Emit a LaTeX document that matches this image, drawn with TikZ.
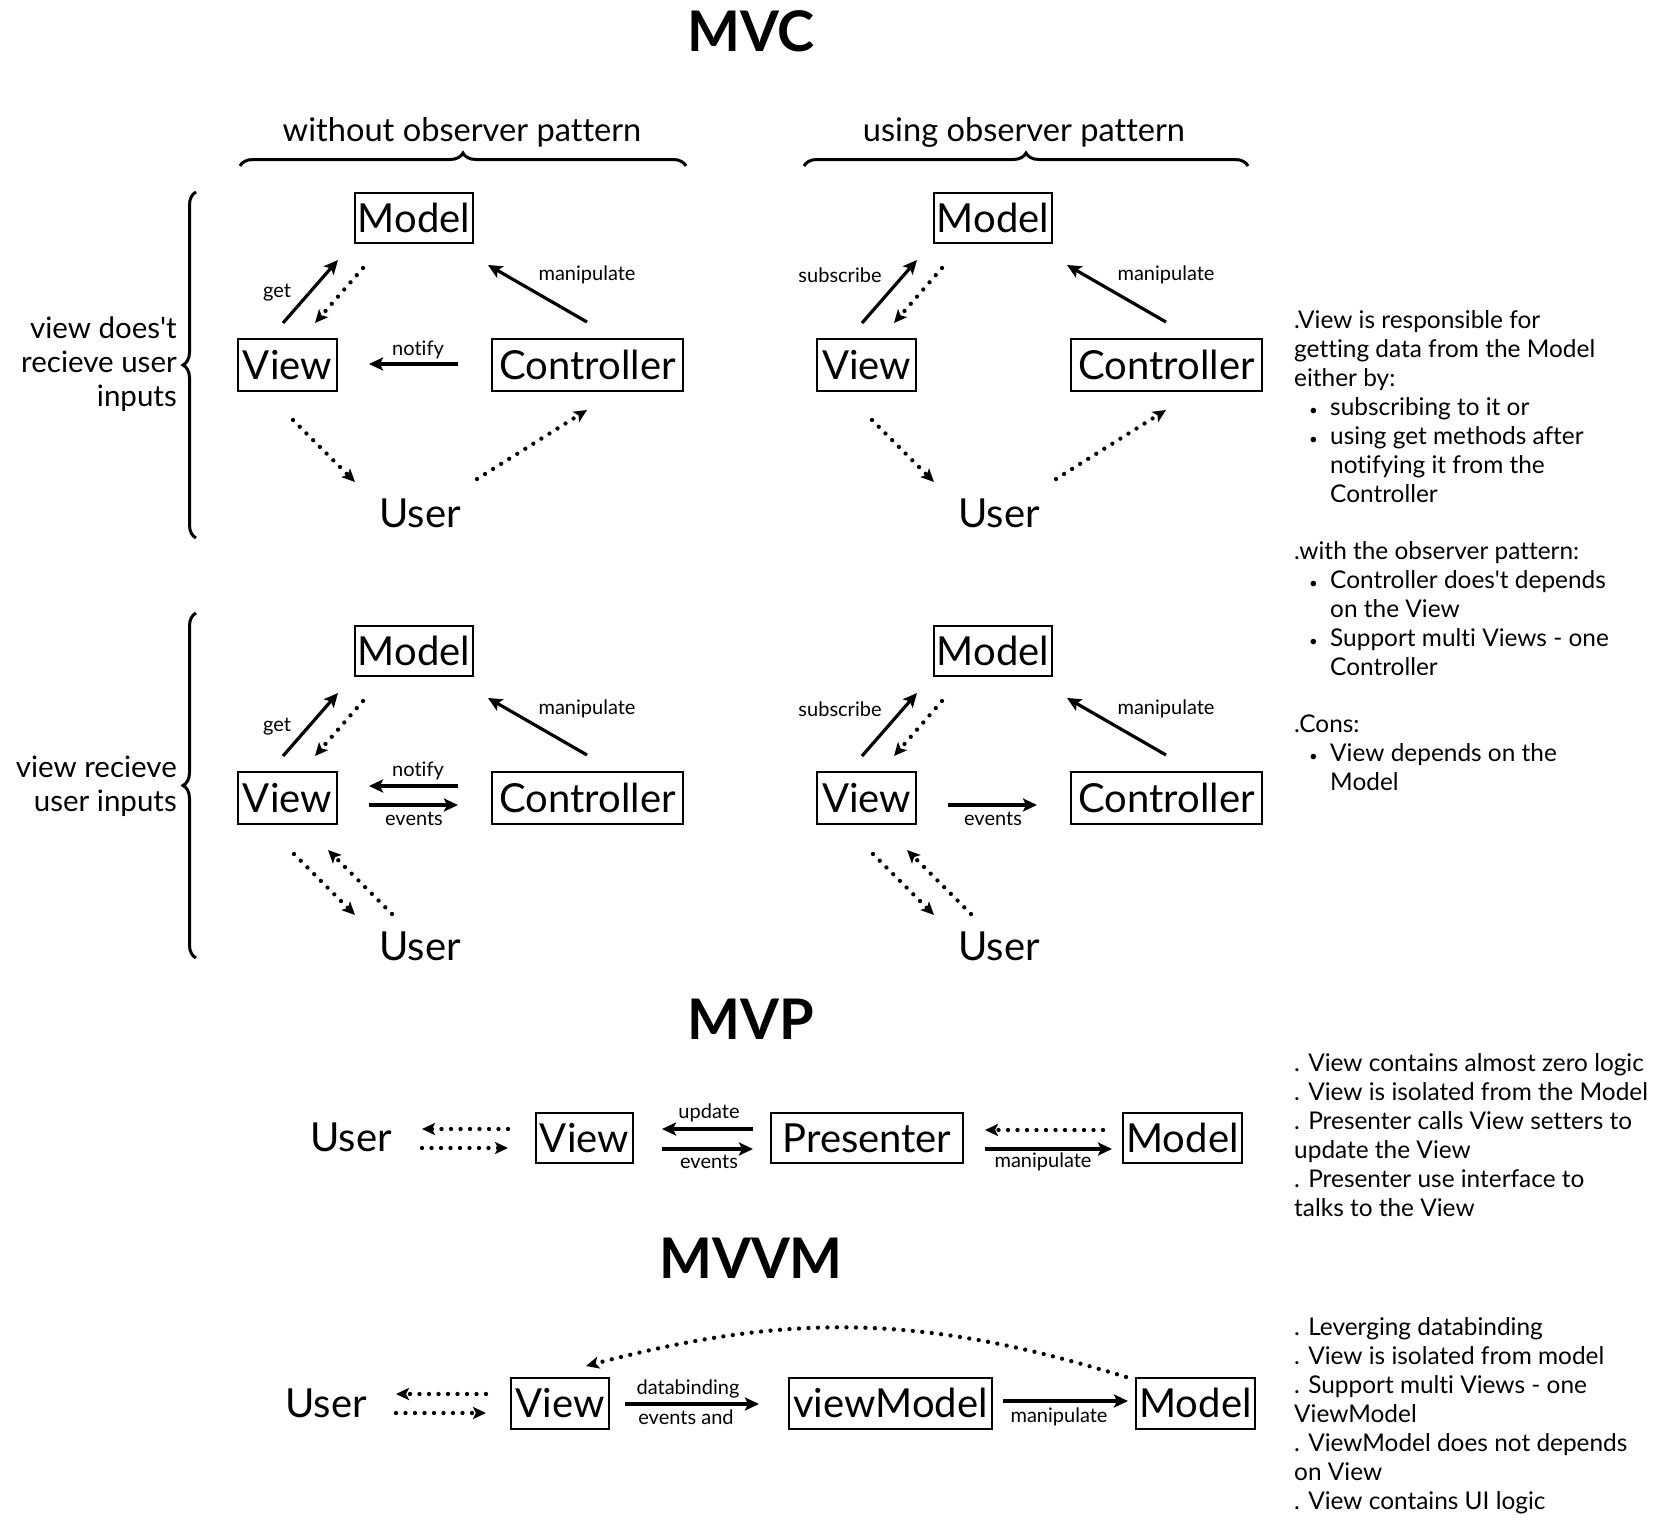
\documentclass[tikz,border=0pt]{standalone}
\usepackage{fontspec}
\setmainfont{Lato}[Ligatures={NoCommon}]
\usetikzlibrary{arrows.meta,decorations.pathreplacing,calc}
\newcommand\mybul{\hspace*{15pt}\makebox[21pt][l]{\fontsize{15}{15}\selectfont\textbullet}}
\newcommand\myind{\hspace*{36pt}}
\newcommand\apos{\textquotesingle}
\begin{document}
\begin{tikzpicture}[x=1pt,y=-1pt,
  box/.style={draw,line width=2pt,inner sep=0pt,minimum height=50pt,text height=28pt,text depth=0pt,font=\fontsize{40}{40}\selectfont},
  plain/.style={inner sep=0pt,font=\fontsize{40}{40}\selectfont},
  lbl/.style={inner sep=0pt,font=\fontsize{20}{20}\selectfont},
  hdr/.style={inner sep=0pt,font=\fontsize{32.6}{32.6}\selectfont},
  sidelbl/.style={inner sep=0pt,align=right,font=\fontsize{29.5}{34}\selectfont},
  note/.style={inner sep=0pt,align=left,font=\fontsize{24.4}{28.9}\selectfont},
  ttl/.style={inner sep=0pt,font=\fontsize{56}{56}\selectfont\bfseries},
  solidarrow/.style={line width=3.2pt,-{Stealth[length=14pt,width=13pt,inset=3pt]}},
  dotarrow/.style={line width=4.3pt,line cap=round,dash pattern=on 0pt off 9.5pt,-{Stealth[length=13pt,width=12pt,inset=3pt]}},
  bracestyle/.style={line width=3pt,decorate,decoration={brace,amplitude=13pt}}
]
\useasboundingbox[fill=white] (0,0) rectangle (1654,1536);

% titles
\node[ttl] (tmvc) at (751,31) {MVC};
\node[ttl] (tmvp) at (751,1019) {MVP};
\node[ttl] (tmvvm) at (751,1258) {MVVM};

% headers and braces
\node[hdr] (h1) at (462,132) {without observer pattern};
\node[hdr] (h2) at (1024,132) {using observer pattern};
\draw[bracestyle] (240,166) -- (686,166);
\draw[bracestyle] (804,166) -- (1248,166);
\draw[bracestyle] (196,538) -- (196,192);
\draw[bracestyle] (196,958) -- (196,613);
\node[sidelbl,anchor=east] (s1) at (177,364) {view does\apos t\\recieve user\\inputs};
\node[sidelbl,anchor=east] (s2) at (177,786) {view recieve\\user inputs};

% ---------- diagram 1 ----------
\node[box,minimum width=118pt] (M1) at (414,218) {Model};
\node[box,minimum width=99pt,minimum height=52pt] (V1) at (287.5,365) {View};
\node[box,minimum width=191pt,minimum height=52pt] (C1) at (587.5,365) {Controller};
\node[plain] (U1) at (420,513) {User};
\draw[solidarrow] ([shift={(-4.5,-15)}]V1.north) -- ([shift={(-76,16)}]M1.south);
\draw[dotarrow] ([shift={(-51,24)}]M1.south) -- ([shift={(27.5,-15)}]V1.north);
\draw[solidarrow] ([shift={(-0.5,-16)}]C1.north) -- ([shift={(74,21)}]M1.south);
\draw[solidarrow] ([shift={(-33,-1)}]C1.west) -- ([shift={(31,-1)}]V1.east);
\draw[dotarrow] ([shift={(5.5,28)}]V1.south) -- ([shift={(-65,-31)}]U1.center);
\draw[dotarrow] ([shift={(57,-34)}]U1.center) -- ([shift={(-0.5,18)}]C1.south);
\node[lbl] (g1) at (277,293) {get};
\node[lbl] (m1) at (587,275) {manipulate};
\node[lbl] (n1) at (418,350) {notify};

% ---------- diagram 2 ----------
\begin{scope}[shift={(579,0)}]
\node[box,minimum width=118pt] (M2) at (414,218) {Model};
\node[box,minimum width=99pt,minimum height=52pt] (V2) at (287.5,365) {View};
\node[box,minimum width=191pt,minimum height=52pt] (C2) at (587.5,365) {Controller};
\node[plain] (U2) at (420,513) {User};
\draw[solidarrow] ([shift={(-4.5,-15)}]V2.north) -- ([shift={(-76,16)}]M2.south);
\draw[dotarrow] ([shift={(-51,24)}]M2.south) -- ([shift={(27.5,-15)}]V2.north);
\draw[solidarrow] ([shift={(-0.5,-16)}]C2.north) -- ([shift={(74,21)}]M2.south);
\draw[dotarrow] ([shift={(5.5,28)}]V2.south) -- ([shift={(-65,-31)}]U2.center);
\draw[dotarrow] ([shift={(57,-34)}]U2.center) -- ([shift={(-0.5,18)}]C2.south);
\node[lbl] (g2) at (261,275) {subscribe};
\node[lbl] (m2) at (587,275) {manipulate};
\end{scope}

% ---------- diagram 3 ----------
\begin{scope}[shift={(0,433)}]
\node[box,minimum width=118pt] (M3) at (414,218) {Model};
\node[box,minimum width=99pt,minimum height=52pt] (V3) at (287.5,365) {View};
\node[box,minimum width=191pt,minimum height=52pt] (C3) at (587.5,365) {Controller};
\node[plain] (U3) at (420,513) {User};
\draw[solidarrow] ([shift={(-4.5,-15)}]V3.north) -- ([shift={(-76,16)}]M3.south);
\draw[dotarrow] ([shift={(-51,24)}]M3.south) -- ([shift={(27.5,-15)}]V3.north);
\draw[solidarrow] ([shift={(-0.5,-16)}]C3.north) -- ([shift={(74,21)}]M3.south);
\draw[solidarrow] ([shift={(-33,-12)}]C3.west) -- ([shift={(31,-12)}]V3.east);
\draw[solidarrow] ([shift={(31,7)}]V3.east) -- ([shift={(-33,7)}]C3.west);
\draw[dotarrow] ([shift={(6.5,29)}]V3.south) -- ([shift={(-65,-31)}]U3.center);
\draw[dotarrow] ([shift={(-28,-32)}]U3.center) -- ([shift={(40.5,25)}]V3.south);
\node[lbl] (g3) at (277,294) {get};
\node[lbl] (m3) at (587,276) {manipulate};
\node[lbl] (n3) at (418,338) {notify};
\node[lbl] (e3) at (414,386) {events};
\end{scope}

% ---------- diagram 4 ----------
\begin{scope}[shift={(579,433)}]
\node[box,minimum width=118pt] (M4) at (414,218) {Model};
\node[box,minimum width=99pt,minimum height=52pt] (V4) at (287.5,365) {View};
\node[box,minimum width=191pt,minimum height=52pt] (C4) at (587.5,365) {Controller};
\node[plain] (U4) at (420,513) {User};
\draw[solidarrow] ([shift={(-4.5,-15)}]V4.north) -- ([shift={(-76,16)}]M4.south);
\draw[dotarrow] ([shift={(-51,24)}]M4.south) -- ([shift={(27.5,-15)}]V4.north);
\draw[solidarrow] ([shift={(-0.5,-16)}]C4.north) -- ([shift={(74,21)}]M4.south);
\draw[solidarrow] ([shift={(31,7)}]V4.east) -- ([shift={(-33,7)}]C4.west);
\draw[dotarrow] ([shift={(6.5,29)}]V4.south) -- ([shift={(-65,-31)}]U4.center);
\draw[dotarrow] ([shift={(-28,-32)}]U4.center) -- ([shift={(40.5,25)}]V4.south);
\node[lbl] (g4) at (261,276) {subscribe};
\node[lbl] (m4) at (587,276) {manipulate};
\node[lbl] (e4) at (414,386) {events};
\end{scope}

% ---------- MVC notes (anchored at last baseline) ----------
\node[note,anchor=base west] (t1) at (1294,502) {.View is responsible for\\getting data from the Model\\either by:\\\mybul subscribing to it or\\\mybul using get methods after\\\myind notifying it from the\\\myind Controller};
\node[note,anchor=base west] (t2) at (1294,675) {.with the observer pattern:\\\mybul Controller does\apos t depends\\\myind on the View\\\mybul Support multi Views - one\\\myind Controller};
\node[note,anchor=base west] (t3) at (1294,790) {.Cons:\\\mybul View depends on the\\\myind Model};

% ---------- MVP ----------
\node[plain] (PU) at (351,1137) {User};
\node[box,minimum width=97pt] (PV) at (584.5,1138) {View};
\node[box,minimum width=192pt] (PP) at (867,1138) {Presenter};
\node[box,minimum width=119pt] (PM) at (1182.5,1138) {Model};
\draw[dotarrow] ([shift={(-27,-9)}]PV.west) -- ([shift={(71,-8)}]PU.center);
\draw[dotarrow] ([shift={(71,11)}]PU.center) -- ([shift={(-27,10)}]PV.west);
\draw[solidarrow] ([shift={(-17,-9)}]PP.west) -- ([shift={(28,-9)}]PV.east);
\draw[solidarrow] ([shift={(28,11)}]PV.east) -- ([shift={(-17,11)}]PP.west);
\draw[dotarrow] ([shift={(-19,-8)}]PM.west) -- ([shift={(21,-8)}]PP.east);
\draw[solidarrow] ([shift={(21,11)}]PP.east) -- ([shift={(-10,11)}]PM.west);
\node[lbl] (pu) at (709,1113) {update};
\node[lbl] (pe) at (709,1162) {events};
\node[lbl] (pm) at (1043,1162) {manipulate};
\node[note,anchor=base west] (t4) at (1294,1216) {. View contains almost zero logic\\. View is isolated from the Model\\. Presenter calls View setters to\\update the View\\. Presenter use interface to\\talks to the View};

% ---------- MVVM ----------
\node[plain] (WU) at (326,1403) {User};
\node[box,minimum width=98pt,minimum height=51pt] (WV) at (560,1403.5) {View};
\node[box,minimum width=203pt,minimum height=51pt] (WVM) at (890.5,1403.5) {viewModel};
\node[box,minimum width=119pt,minimum height=51pt] (WM) at (1195.5,1403.5) {Model};
\draw[dotarrow] ([shift={(-24,-9.5)}]WV.west) -- ([shift={(70,-9)}]WU.center);
\draw[dotarrow] ([shift={(70,10)}]WU.center) -- ([shift={(-24,9.5)}]WV.west);
\draw[solidarrow] ([shift={(15,0.5)}]WV.east) -- ([shift={(-29,0.5)}]WVM.west);
\draw[solidarrow] ([shift={(10,-2.5)}]WVM.east) -- ([shift={(-7,-2.5)}]WM.west);
\draw[dotarrow] ([shift={(-9,0)}]WM.north west) to[bend right=16] ([shift={(-24,-11)}]WV.north east);
\node[lbl] (wd) at (688,1389) {databinding};
\node[lbl] (we) at (686,1417) {events and};
\node[lbl] (wm) at (1059,1417) {manipulate};
\node[note,anchor=base west] (t5) at (1294,1509) {. Leverging databinding\\. View is isolated from model\\. Support multi Views - one\\ViewModel\\. ViewModel does not depends\\on View\\. View contains UI logic};
\end{tikzpicture}
\end{document}
